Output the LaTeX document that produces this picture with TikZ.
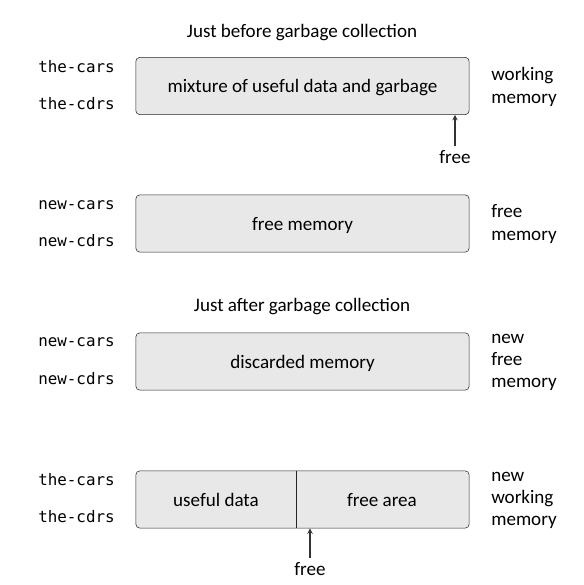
\documentclass[tikz,border=0pt]{standalone}
\usepackage{fontspec}
\setmainfont{Carlito}
\setmonofont{DejaVu Sans Mono}
\usepackage{tikz}
\usetikzlibrary{arrows,positioning}
\tikzstyle{mem}=[draw=black!85,fill=black!9,rounded corners=3pt,minimum width=250pt,minimum height=43pt,inner sep=0pt,text depth=0pt,font=\fontsize{14.3}{17}\selectfont]
\tikzstyle{reg}=[font=\fontsize{11.9}{14}\selectfont\ttfamily,inner sep=0pt,anchor=west]
\tikzstyle{lbl}=[font=\fontsize{14.3}{17.5}\selectfont,inner sep=0pt]
\tikzstyle{side}=[lbl,anchor=west,align=left]
\tikzstyle{ptr}=[->,>=stealth,draw=black!80,thick]

\begin{document}
\begin{tikzpicture}[x=0.75pt,y=-0.75pt]
    \useasboundingbox (0,0) rectangle (584,585);
    % before
    \node (t1) [lbl] at (302,32.5) {Just before garbage collection};
    \node (B1) [mem] at (302.5,86) {mixture of useful data and garbage};
    \node (c1) [reg] at (38,67) {the-cars};
    \node (d1) [reg] at (38,104) {the-cdrs};
    \node (w1) [side] at (491,87) {working\\memory};
    \node (f1) [lbl] at (455,157) {free};
    \draw[ptr] (f1.north) ++(0,-4) -- (B1.south -| f1);

    \node (B2) [mem] at (302.5,223.5) {free memory};
    \node (c2) [reg] at (38,205) {new-cars};
    \node (d2) [reg] at (38,241) {new-cdrs};
    \node (w2) [side] at (491,224) {free\\memory};

    % after
    \node (t2) [lbl] at (302,306.5) {Just after garbage collection};
    \node (B3) [mem] at (302.5,361.5) {discarded memory};
    \node (c3) [reg] at (38,342) {new-cars};
    \node (d3) [reg] at (38,379) {new-cdrs};
    \node (w3) [side] at (491,362.5) {new\\[-1pt]free\\[-1pt]memory};

    \node (B4) [mem] at (302.5,499.5) {};
    \coordinate (cut) at (296,499.5);
    \draw[black!85] (cut |- B4.north) -- (cut |- B4.south);
    \node (u4) [lbl] at (216,500) {useful data};
    \node (a4) [lbl] at (382,500) {free area};
    \node (c4) [reg] at (38,480) {the-cars};
    \node (d4) [reg] at (38,517) {the-cdrs};
    \node (w4) [side] at (491,500) {new\\[-1pt]working\\[-1pt]memory};
    \node (f4) [lbl] at (310,569) {free};
    \draw[ptr] (f4.north) ++(0,-4) -- (B4.south -| f4);
\end{tikzpicture}
\end{document}
